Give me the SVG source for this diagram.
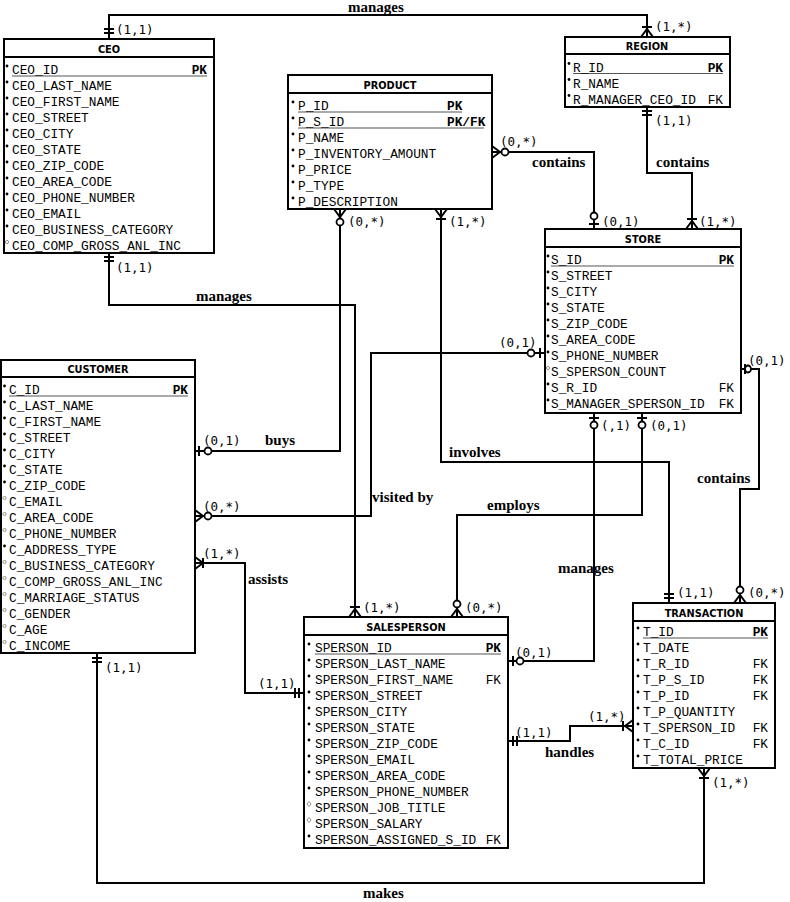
<svg xmlns="http://www.w3.org/2000/svg" width="790" height="902" viewBox="0 0 790 902">
<style>
.box{fill:#fff;stroke:#000;stroke-width:2}
.hdr{stroke:#000;stroke-width:2}
.title{font-family:"DejaVu Sans",sans-serif;font-weight:bold;font-size:9.8px;text-anchor:middle}
.attr{font-family:"Liberation Mono",monospace;font-size:12.8px;fill:#000}
.key{font-family:"Liberation Mono",monospace;font-size:12.8px;text-anchor:end}
.pk{font-weight:bold}
.ul{stroke:#555;stroke-width:1}
.m{fill:#000}
.o{fill:#fff;stroke:#777;stroke-width:0.8}
.conn path{fill:none;stroke:#000;stroke-width:2}
.conn .c{fill:#fff;stroke:#000;stroke-width:1.8}
.card{font-family:"DejaVu Sans Mono",monospace;font-size:12.5px}
.rel{font-family:"Liberation Serif",serif;font-weight:bold;font-size:15px}
</style>

<g id="connectors" class="conn">
  <!-- CEO - REGION manages -->
  <path d="M109,39 V15 H647 V37"/>
  <path d="M104,33H114 M104,29H114"/>
  <path d="M641,37 L647,29 L653,37 M642,27H652"/>
  <text class="card" x="116" y="34">(1,1)</text>
  <text class="card" x="655" y="31">(1,*)</text>
  <text class="rel" x="348" y="12">manages</text>

  <!-- CEO - SALESPERSON manages -->
  <path d="M109,253 V305 H355 V617"/>
  <path d="M104,257H114 M104,261H114"/>
  <path d="M349,617 L355,609 L361,617 M350,607H360"/>
  <text class="card" x="116" y="272">(1,1)</text>
  <text class="card" x="363" y="612">(1,*)</text>
  <text class="rel" x="196" y="301">manages</text>

  <!-- PRODUCT - CUSTOMER buys -->
  <path d="M340,209 V451 H195"/>
  <path d="M334,209 L340,217 L346,209"/>
  <ellipse class="c" cx="340" cy="222" rx="3.5" ry="3.5"/>
  <path d="M199,446V456"/>
  <ellipse class="c" cx="208" cy="451" rx="3.5" ry="3.5"/>
  <text class="card" x="348" y="226">(0,*)</text>
  <text class="card" x="203" y="445">(0,1)</text>
  <text class="rel" x="265" y="445">buys</text>

  <!-- PRODUCT - TRANSACTION involves -->
  <path d="M441,209 V462 H669 V603"/>
  <path d="M435,209 L441,217 L447,209 M436,219H446"/>
  <path d="M664,598H674 M664,594H674"/>
  <text class="card" x="449" y="226">(1,*)</text>
  <text class="card" x="677" y="597">(1,1)</text>
  <text class="rel" x="449" y="457">involves</text>

  <!-- PRODUCT - STORE contains -->
  <path d="M492,152 H594 V229"/>
  <path d="M492,146 L500,152 L492,158"/>
  <ellipse class="c" cx="505" cy="152" rx="3.5" ry="3.5"/>
  <path d="M589,224H599"/>
  <ellipse class="c" cx="594" cy="216" rx="3.5" ry="3.5"/>
  <text class="card" x="500" y="146">(0,*)</text>
  <text class="card" x="602" y="226">(0,1)</text>
  <text class="rel" x="532" y="167">contains</text>

  <!-- REGION - STORE contains -->
  <path d="M647,107 V173 H692 V229"/>
  <path d="M642,111H652 M642,115H652"/>
  <path d="M686,229 L692,221 L698,229 M687,219H697"/>
  <text class="card" x="655" y="125">(1,1)</text>
  <text class="card" x="699" y="226">(1,*)</text>
  <text class="rel" x="656" y="167">contains</text>

  <!-- STORE - CUSTOMER visited by -->
  <path d="M545,353 H371 V516 H195"/>
  <path d="M540,348V358"/>
  <ellipse class="c" cx="531" cy="353" rx="3.5" ry="3.5"/>
  <path d="M195,510 L203,516 L195,522"/>
  <ellipse class="c" cx="208" cy="516" rx="3.5" ry="3.5"/>
  <text class="card" x="499" y="347">(0,1)</text>
  <text class="card" x="203" y="511">(0,*)</text>
  <text class="rel" x="372" y="502">visited by</text>

  <!-- CUSTOMER - SALESPERSON assists -->
  <path d="M195,563 H245 V693 H304"/>
  <path d="M195,557 L203,563 L195,569 M203,558V568"/>
  <path d="M299,688V698 M295,688V698"/>
  <text class="card" x="203" y="558">(1,*)</text>
  <text class="card" x="258" y="688">(1,1)</text>
  <text class="rel" x="248" y="584">assists</text>

  <!-- CUSTOMER - TRANSACTION makes -->
  <path d="M97,653 V883 H704 V768"/>
  <path d="M92,658H102 M92,662H102"/>
  <path d="M698,768 L704,776 L710,768 M699,778H709"/>
  <text class="card" x="105" y="672">(1,1)</text>
  <text class="card" x="712" y="787">(1,*)</text>
  <text class="rel" x="363" y="898">makes</text>

  <!-- STORE - SALESPERSON manages -->
  <path d="M594,413 V661 H508"/>
  <path d="M589,418H599"/>
  <ellipse class="c" cx="594" cy="425" rx="3.5" ry="3.5"/>
  <path d="M513,656V666"/>
  <ellipse class="c" cx="520" cy="661" rx="3.5" ry="3.5"/>
  <text class="card" x="601" y="430">(,1)</text>
  <text class="card" x="515" y="657">(0,1)</text>
  <text class="rel" x="558" y="573">manages</text>

  <!-- STORE - SALESPERSON employs -->
  <path d="M642,413 V515 H457 V617"/>
  <path d="M637,418H647"/>
  <ellipse class="c" cx="642" cy="425" rx="3.5" ry="3.5"/>
  <path d="M451,617 L457,609 L463,617"/>
  <ellipse class="c" cx="457" cy="604" rx="3.5" ry="3.5"/>
  <text class="card" x="650" y="430">(0,1)</text>
  <text class="card" x="465" y="612">(0,*)</text>
  <text class="rel" x="487" y="510">employs</text>

  <!-- STORE - TRANSACTION contains -->
  <path d="M741,369 H759 V489 H740 V603"/>
  <path d="M745,364V374"/>
  <ellipse class="c" cx="748" cy="369" rx="3" ry="3.5"/>
  <path d="M734,603 L740,595 L746,603"/>
  <ellipse class="c" cx="740" cy="590" rx="3.5" ry="3.5"/>
  <text class="card" x="748" y="365">(0,1)</text>
  <text class="card" x="748" y="597">(0,*)</text>
  <text class="rel" x="697" y="483">contains</text>

  <!-- SALESPERSON - TRANSACTION handles -->
  <path d="M508,741 H570 V726 H633"/>
  <path d="M513,736V746 M517,736V746"/>
  <path d="M633,720 L625,726 L633,732 M623,721V731"/>
  <text class="card" x="515" y="737">(1,1)</text>
  <text class="card" x="588" y="721">(1,*)</text>
  <text class="rel" x="545" y="757">handles</text>
</g>

<g id="ceo">
  <rect class="box" x="4" y="39" width="210" height="214"/>
  <line class="hdr" x1="4" y1="57" x2="214" y2="57"/>
  <text class="title" x="109" y="53">CEO</text>
  <line class="ul" x1="12" y1="76" x2="207" y2="76"/>
  <g class="m">
    <circle cx="7" cy="66" r="1.4"/><circle cx="7" cy="82" r="1.4"/><circle cx="7" cy="98" r="1.4"/><circle cx="7" cy="114" r="1.4"/><circle cx="7" cy="130" r="1.4"/><circle cx="7" cy="146" r="1.4"/><circle cx="7" cy="162" r="1.4"/><circle cx="7" cy="178" r="1.4"/><circle cx="7" cy="194" r="1.4"/><circle cx="7" cy="210" r="1.4"/><circle cx="7" cy="226" r="1.4"/>
  </g>
  <circle class="o" cx="7" cy="242" r="1.6"/>
  <text class="attr"><tspan x="12" y="74">CEO_ID</tspan><tspan x="12" dy="16">CEO_LAST_NAME</tspan><tspan x="12" dy="16">CEO_FIRST_NAME</tspan><tspan x="12" dy="16">CEO_STREET</tspan><tspan x="12" dy="16">CEO_CITY</tspan><tspan x="12" dy="16">CEO_STATE</tspan><tspan x="12" dy="16">CEO_ZIP_CODE</tspan><tspan x="12" dy="16">CEO_AREA_CODE</tspan><tspan x="12" dy="16">CEO_PHONE_NUMBER</tspan><tspan x="12" dy="16">CEO_EMAIL</tspan><tspan x="12" dy="16">CEO_BUSINESS_CATEGORY</tspan><tspan x="12" dy="16">CEO_COMP_GROSS_ANL_INC</tspan></text>
  <text class="key pk" x="207" y="74">PK</text>
</g>

<g id="region">
  <rect class="box" x="565" y="37" width="165" height="70"/>
  <line class="hdr" x1="565" y1="54" x2="730" y2="54"/>
  <text class="title" x="647" y="50">REGION</text>
  <line class="ul" x1="573" y1="73.5" x2="723" y2="73.5"/>
  <g class="m"><circle cx="569" cy="63.5" r="1.4"/><circle cx="569" cy="79.5" r="1.4"/><circle cx="569" cy="95.5" r="1.4"/></g>
  <text class="attr"><tspan x="573" y="71.5">R_ID</tspan><tspan x="573" dy="16">R_NAME</tspan><tspan x="573" dy="16">R_MANAGER_CEO_ID</tspan></text>
  <text class="key pk" x="723" y="71.5">PK</text>
  <text class="key" x="723" y="103.5">FK</text>
</g>

<g id="product">
  <rect class="box" x="288" y="75" width="204" height="134"/>
  <line class="hdr" x1="288" y1="93" x2="492" y2="93"/>
  <text class="title" x="390" y="89">PRODUCT</text>
  <line class="ul" x1="298" y1="112" x2="462" y2="112"/>
  <line class="ul" x1="298" y1="128" x2="484" y2="128"/>
  <g class="m"><circle cx="293" cy="102" r="1.4"/><circle cx="293" cy="118" r="1.4"/><circle cx="293" cy="134" r="1.4"/><circle cx="293" cy="150" r="1.4"/><circle cx="293" cy="166" r="1.4"/><circle cx="293" cy="182" r="1.4"/><circle cx="293" cy="198" r="1.4"/></g>
  <text class="attr"><tspan x="298" y="110">P_ID</tspan><tspan x="298" dy="16">P_S_ID</tspan><tspan x="298" dy="16">P_NAME</tspan><tspan x="298" dy="16">P_INVENTORY_AMOUNT</tspan><tspan x="298" dy="16">P_PRICE</tspan><tspan x="298" dy="16">P_TYPE</tspan><tspan x="298" dy="16">P_DESCRIPTION</tspan></text>
  <text class="attr pk" x="447" y="110">PK</text>
  <text class="attr pk" x="447" y="126">PK/FK</text>
</g>

<g id="store">
  <rect class="box" x="545" y="229" width="196" height="184"/>
  <line class="hdr" x1="545" y1="247" x2="741" y2="247"/>
  <text class="title" x="643" y="243">STORE</text>
  <line class="ul" x1="551" y1="266" x2="734" y2="266"/>
  <g class="m"><circle cx="548" cy="256" r="1.4"/><circle cx="548" cy="272" r="1.4"/><circle cx="548" cy="288" r="1.4"/><circle cx="548" cy="304" r="1.4"/><circle cx="548" cy="320" r="1.4"/><circle cx="548" cy="336" r="1.4"/><circle cx="548" cy="352" r="1.4"/><circle cx="548" cy="384" r="1.4"/><circle cx="548" cy="400" r="1.4"/></g>
  <circle class="o" cx="548" cy="368" r="1.6"/>
  <text class="attr"><tspan x="551" y="264">S_ID</tspan><tspan x="551" dy="16">S_STREET</tspan><tspan x="551" dy="16">S_CITY</tspan><tspan x="551" dy="16">S_STATE</tspan><tspan x="551" dy="16">S_ZIP_CODE</tspan><tspan x="551" dy="16">S_AREA_CODE</tspan><tspan x="551" dy="16">S_PHONE_NUMBER</tspan><tspan x="551" dy="16">S_SPERSON_COUNT</tspan><tspan x="551" dy="16">S_R_ID</tspan><tspan x="551" dy="16">S_MANAGER_SPERSON_ID</tspan></text>
  <text class="key pk" x="734" y="264">PK</text>
  <text class="key" x="734" y="392">FK</text>
  <text class="key" x="734" y="408">FK</text>
</g>

<g id="customer">
  <rect class="box" x="1" y="360" width="194" height="293"/>
  <line class="hdr" x1="1" y1="377" x2="195" y2="377"/>
  <text class="title" x="98" y="373">CUSTOMER</text>
  <line class="ul" x1="9" y1="396" x2="188" y2="396"/>
  <g class="m"><circle cx="4.5" cy="386" r="1.4"/><circle cx="4.5" cy="402" r="1.4"/><circle cx="4.5" cy="418" r="1.4"/><circle cx="4.5" cy="434" r="1.4"/><circle cx="4.5" cy="450" r="1.4"/><circle cx="4.5" cy="466" r="1.4"/><circle cx="4.5" cy="482" r="1.4"/><circle cx="4.5" cy="546" r="1.4"/></g>
  <g class="o"><circle cx="4.5" cy="498" r="1.6"/><circle cx="4.5" cy="514" r="1.6"/><circle cx="4.5" cy="530" r="1.6"/><circle cx="4.5" cy="562" r="1.6"/><circle cx="4.5" cy="578" r="1.6"/><circle cx="4.5" cy="594" r="1.6"/><circle cx="4.5" cy="610" r="1.6"/><circle cx="4.5" cy="626" r="1.6"/><circle cx="4.5" cy="642" r="1.6"/></g>
  <text class="attr"><tspan x="9" y="394">C_ID</tspan><tspan x="9" dy="16">C_LAST_NAME</tspan><tspan x="9" dy="16">C_FIRST_NAME</tspan><tspan x="9" dy="16">C_STREET</tspan><tspan x="9" dy="16">C_CITY</tspan><tspan x="9" dy="16">C_STATE</tspan><tspan x="9" dy="16">C_ZIP_CODE</tspan><tspan x="9" dy="16">C_EMAIL</tspan><tspan x="9" dy="16">C_AREA_CODE</tspan><tspan x="9" dy="16">C_PHONE_NUMBER</tspan><tspan x="9" dy="16">C_ADDRESS_TYPE</tspan><tspan x="9" dy="16">C_BUSINESS_CATEGORY</tspan><tspan x="9" dy="16">C_COMP_GROSS_ANL_INC</tspan><tspan x="9" dy="16">C_MARRIAGE_STATUS</tspan><tspan x="9" dy="16">C_GENDER</tspan><tspan x="9" dy="16">C_AGE</tspan><tspan x="9" dy="16">C_INCOME</tspan></text>
  <text class="key pk" x="188" y="394">PK</text>
</g>

<g id="salesperson">
  <rect class="box" x="304" y="617" width="204" height="231"/>
  <line class="hdr" x1="304" y1="635" x2="508" y2="635"/>
  <text class="title" x="406" y="631">SALESPERSON</text>
  <line class="ul" x1="315" y1="654" x2="501" y2="654"/>
  <g class="m"><circle cx="309" cy="644" r="1.4"/><circle cx="309" cy="660" r="1.4"/><circle cx="309" cy="676" r="1.4"/><circle cx="309" cy="692" r="1.4"/><circle cx="309" cy="708" r="1.4"/><circle cx="309" cy="724" r="1.4"/><circle cx="309" cy="740" r="1.4"/><circle cx="309" cy="756" r="1.4"/><circle cx="309" cy="772" r="1.4"/><circle cx="309" cy="788" r="1.4"/><circle cx="309" cy="836" r="1.4"/></g>
  <g class="o"><polygon points="309,801.5 311,804 309,806.5 307,804"/><polygon points="309,817.5 311,820 309,822.5 307,820"/></g>
  <text class="attr"><tspan x="315" y="652">SPERSON_ID</tspan><tspan x="315" dy="16">SPERSON_LAST_NAME</tspan><tspan x="315" dy="16">SPERSON_FIRST_NAME</tspan><tspan x="315" dy="16">SPERSON_STREET</tspan><tspan x="315" dy="16">SPERSON_CITY</tspan><tspan x="315" dy="16">SPERSON_STATE</tspan><tspan x="315" dy="16">SPERSON_ZIP_CODE</tspan><tspan x="315" dy="16">SPERSON_EMAIL</tspan><tspan x="315" dy="16">SPERSON_AREA_CODE</tspan><tspan x="315" dy="16">SPERSON_PHONE_NUMBER</tspan><tspan x="315" dy="16">SPERSON_JOB_TITLE</tspan><tspan x="315" dy="16">SPERSON_SALARY</tspan><tspan x="315" dy="16">SPERSON_ASSIGNED_S_ID</tspan></text>
  <text class="key pk" x="501" y="652">PK</text>
  <text class="key" x="501" y="684">FK</text>
  <text class="key" x="501" y="844">FK</text>
</g>

<g id="transaction">
  <rect class="box" x="633" y="603" width="142" height="165"/>
  <line class="hdr" x1="633" y1="621" x2="775" y2="621"/>
  <text class="title" x="704" y="617">TRANSACTION</text>
  <line class="ul" x1="643" y1="638" x2="768" y2="638"/>
  <g class="m"><circle cx="638" cy="628" r="1.4"/><circle cx="638" cy="644" r="1.4"/><circle cx="638" cy="660" r="1.4"/><circle cx="638" cy="676" r="1.4"/><circle cx="638" cy="692" r="1.4"/><circle cx="638" cy="708" r="1.4"/><circle cx="638" cy="724" r="1.4"/><circle cx="638" cy="740" r="1.4"/><circle cx="638" cy="756" r="1.4"/></g>
  <text class="attr"><tspan x="643" y="636">T_ID</tspan><tspan x="643" dy="16">T_DATE</tspan><tspan x="643" dy="16">T_R_ID</tspan><tspan x="643" dy="16">T_P_S_ID</tspan><tspan x="643" dy="16">T_P_ID</tspan><tspan x="643" dy="16">T_P_QUANTITY</tspan><tspan x="643" dy="16">T_SPERSON_ID</tspan><tspan x="643" dy="16">T_C_ID</tspan><tspan x="643" dy="16">T_TOTAL_PRICE</tspan></text>
  <text class="key pk" x="768" y="636">PK</text>
  <text class="key" x="768" y="668">FK</text>
  <text class="key" x="768" y="684">FK</text>
  <text class="key" x="768" y="700">FK</text>
  <text class="key" x="768" y="732">FK</text>
  <text class="key" x="768" y="748">FK</text>
</g>
</svg>
